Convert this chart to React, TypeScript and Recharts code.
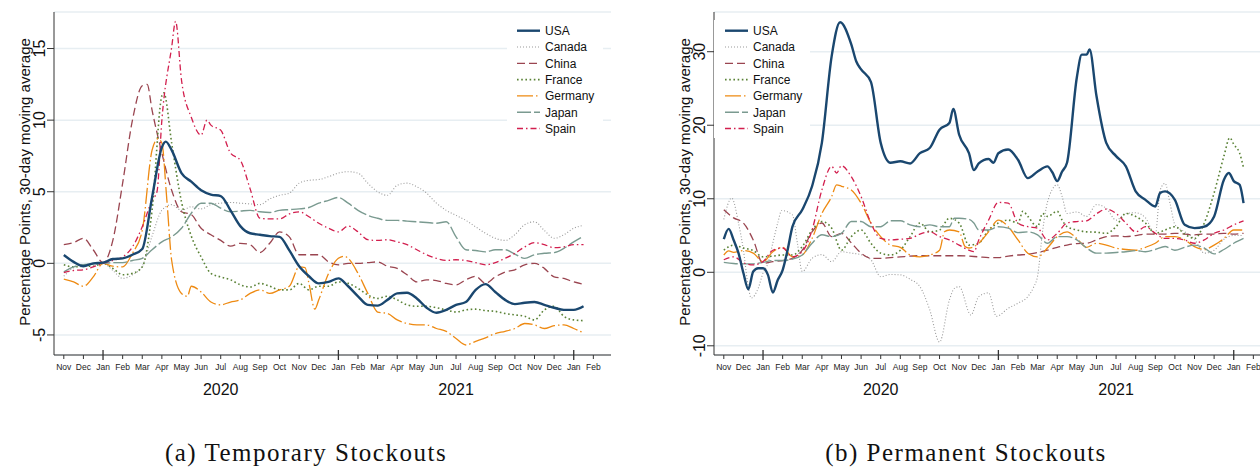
import { LineChart, Line, XAxis, YAxis, CartesianGrid, Legend } from "recharts";

type Pt = [number, number];

// x = months since Nov 2019
const monthTicks = [0, 1, 2, 3, 4, 5, 6, 7, 8, 9, 10, 11, 12, 13, 14, 15, 16, 17, 18, 19, 20, 21, 22, 23, 24, 25, 26, 27];
const monthLabels = [
  "Nov", "Dec", "Jan", "Feb", "Mar", "Apr", "May", "Jun", "Jul", "Aug", "Sep", "Oct", "Nov", "Dec",
  "Jan", "Feb", "Mar", "Apr", "May", "Jun", "Jul", "Aug", "Sep", "Oct", "Nov", "Dec", "Jan", "Feb",
];
const majorTicks = [2, 14, 26];
const yearTicks = [8, 20];
const years = ["2020", "2021"];

const countries = ["USA", "Canada", "China", "France", "Germany", "Japan", "Spain"];
const colors = ["#1a476f", "#9a9a9a", "#9a4550", "#5a8236", "#ee8a12", "#7a9a90", "#d21f4e"];
const dashes = ["", "1 2", "8 4", "1.6 2.6", "16 3 1.5 3", "14 3", "6 3 1.5 3"];
const widths = [2.4, 1.1, 1.3, 1.6, 1.3, 1.4, 1.3];

// (a) Temporary stockouts
const usaT: Pt[] = [[0,0.58],[0.5,0.1],[1,-0.2],[1.5,0],[2,0.05],[2.5,0.3],[3,0.35],[3.5,0.6],[4,1.0],[4.5,4.6],[5,8.1],[5.2,8.5],[5.5,7.9],[6,6.3],[6.5,5.7],[7,5.1],[7.5,4.8],[8,4.7],[8.5,3.7],[9,2.6],[9.5,2.1],[10,2.0],[10.5,1.9],[11,1.85],[11.5,0.9],[12,-0.2],[12.5,-0.9],[13,-1.4],[13.5,-1.3],[14,-1.05],[14.5,-1.6],[15,-2.3],[15.5,-2.9],[16,-2.95],[16.5,-2.55],[17,-2.1],[17.5,-2.05],[18,-2.45],[18.5,-3.1],[19,-3.45],[19.5,-3.25],[20,-2.9],[20.5,-2.7],[21,-1.85],[21.5,-1.45],[22,-2.0],[22.5,-2.55],[23,-2.85],[23.5,-2.75],[24,-2.7],[24.5,-2.9],[25,-3.1],[25.5,-3.25],[26,-3.25],[26.5,-3.0]];
const canT: Pt[] = [[0,-0.9],[0.5,-0.3],[1,-0.1],[1.5,-0.05],[2,0],[2.5,-0.5],[3,-1.05],[3.5,-0.8],[4,-0.2],[4.5,1.9],[5,3.7],[5.5,4.1],[6,3.7],[6.5,3.95],[7,3.8],[7.5,4.1],[8,4.2],[8.5,4.25],[9,4.2],[9.5,4.15],[10,4.1],[10.5,4.5],[11,4.75],[11.5,4.9],[12,5.6],[12.5,5.8],[13,5.85],[13.5,6.05],[14,6.3],[14.5,6.4],[15,6.3],[15.5,5.6],[16,5.0],[16.5,4.75],[17,5.45],[17.5,5.6],[18,5.35],[18.5,4.9],[19,4.2],[19.5,3.7],[20,3.35],[20.5,3.0],[21,2.55],[21.5,2.1],[22,1.75],[22.5,1.6],[23,2.0],[23.5,2.7],[24,2.9],[24.5,2.3],[25,1.75],[25.5,2.0],[26,2.45],[26.5,2.65]];
const chnT: Pt[] = [[0,1.3],[0.5,1.45],[1,1.75],[1.5,0.95],[2,0.05],[2.5,1.6],[3,5.6],[3.5,10.0],[4,12.4],[4.25,12.5],[4.5,10.7],[5,7.7],[5.5,5.1],[6,3.6],[6.5,3.4],[7,2.45],[7.5,2.0],[8,1.6],[8.5,1.2],[9,1.4],[9.5,1.3],[10,0.75],[10.5,1.4],[11,2.2],[11.5,1.85],[12,0.6],[12.5,0.6],[13,0.6],[13.5,0.1],[14,-0.1],[14.5,0],[15,0],[15.5,0.05],[16,0.1],[16.5,-0.2],[17,-0.35],[17.5,-0.8],[18,-1.3],[18.5,-1.15],[19,-1.2],[19.5,-1.4],[20,-1.5],[20.5,-1.15],[21,-0.9],[21.5,-1.4],[22,-0.95],[22.5,-0.6],[23,-0.45],[23.5,-0.1],[24,0],[24.5,-0.35],[25,-0.95],[25.5,-1.05],[26,-1.3],[26.5,-1.45]];
const fraT: Pt[] = [[0,-0.1],[0.5,-0.25],[1,-0.2],[1.5,-0.2],[2,0],[2.5,-0.35],[3,-0.8],[3.5,-0.7],[4,-0.25],[4.5,3.7],[5,11.7],[5.1,11.9],[5.5,8.4],[6,4.3],[6.5,1.9],[7,0.45],[7.5,-0.7],[8,-0.95],[8.5,-1.15],[9,-1.5],[9.5,-1.65],[10,-1.4],[10.5,-1.6],[11,-1.85],[11.5,-1.85],[12,-1.4],[12.5,-1.85],[13,-1.6],[13.5,-1.6],[14,-1.3],[14.5,-1.4],[15,-1.75],[15.5,-2.2],[16,-2.45],[16.5,-2.3],[17,-2.55],[17.5,-2.9],[18,-3.0],[18.5,-3.0],[19,-3.1],[19.5,-3.25],[20,-3.4],[20.5,-3.25],[21,-3.2],[21.5,-3.3],[22,-3.35],[22.5,-3.5],[23,-3.6],[23.5,-3.7],[24,-3.95],[24.5,-3.25],[25,-3.0],[25.5,-3.7],[26,-3.95],[26.5,-4.0]];
const gerT: Pt[] = [[0,-1.1],[0.5,-1.3],[1,-1.6],[1.5,-0.95],[2,0],[2.5,-0.2],[3,-0.25],[3.5,0.7],[4,2.3],[4.5,7.9],[4.8,8.7],[5,8.4],[5.25,4.5],[5.5,0.2],[6,-2.1],[6.3,-2.3],[6.5,-1.6],[7,-2.0],[7.5,-2.7],[8,-2.9],[8.5,-2.7],[9,-2.55],[9.5,-2.1],[10,-1.85],[10.5,-2.1],[11,-1.85],[11.5,-1.6],[12,-0.25],[12.3,-0.3],[12.5,-1.4],[12.8,-3.2],[13,-2.55],[13.5,-0.7],[14,0.35],[14.3,0.5],[14.5,0.35],[15,-0.7],[15.5,-2.1],[16,-3.4],[16.5,-3.5],[17,-3.95],[17.5,-4.2],[18,-4.3],[18.5,-4.3],[19,-4.55],[19.5,-4.75],[20,-5.25],[20.5,-5.7],[21,-5.45],[21.5,-5.2],[22,-4.9],[22.5,-4.75],[23,-4.55],[23.5,-4.2],[24,-4.3],[24.5,-4.55],[25,-4.35],[25.5,-4.3],[26,-4.55],[26.5,-4.85]];
const japT: Pt[] = [[0,-0.6],[0.5,-0.25],[1,-0.1],[1.5,-0.05],[2,0],[2.5,0.05],[3,0.05],[3.5,0.2],[4,0.35],[4.5,0.95],[5,1.5],[5.5,1.85],[6,2.45],[6.5,3.5],[7,4.2],[7.5,4.2],[8,3.85],[8.5,3.6],[9,3.65],[9.5,3.7],[10,3.6],[10.5,3.55],[11,3.7],[11.5,3.75],[12,3.8],[12.5,3.9],[13,4.2],[13.5,4.4],[14,4.6],[14.5,4.2],[15,3.7],[15.5,3.35],[16,3.15],[16.5,3.0],[17,3.0],[17.5,2.95],[18,2.9],[18.5,2.85],[19,2.8],[19.5,2.9],[20,1.85],[20.5,0.95],[21,0.9],[21.5,0.8],[22,0.95],[22.5,0.95],[23,0.65],[23.5,0.35],[24,0.6],[24.5,0.7],[25,0.75],[25.5,1.05],[26,1.5],[26.5,1.9]];
const spaT: Pt[] = [[0,-0.65],[0.5,-0.5],[1,-0.45],[1.5,-0.25],[2,0],[2.5,0.2],[3,0.45],[3.5,1.15],[4,2.55],[4.5,4.4],[4.75,5.0],[5,10],[5.5,15.1],[5.7,16.9],[6,12.8],[6.5,10.2],[7,8.95],[7.3,10],[7.5,9.65],[8,9.3],[8.5,7.7],[9,7.2],[9.5,5.2],[10,3.15],[10.5,3.1],[11,3.1],[11.5,3.45],[12,3.6],[12.5,3.25],[13,2.8],[13.5,2.45],[14,2.2],[14.5,2.6],[15,2.2],[15.5,1.65],[16,1.6],[16.5,1.65],[17,1.5],[17.5,1.3],[18,0.95],[18.5,0.6],[19,0.35],[19.5,0.2],[20,0.25],[20.5,0.2],[21,0.05],[21.5,-0.1],[22,0.05],[22.5,0.35],[23,0.7],[23.5,1.15],[24,1.45],[24.5,1.3],[25,1.1],[25.5,1.15],[26,1.3],[26.5,1.3]];

// (b) Permanent stockouts
const usaP: Pt[] = [[0,4.5],[0.25,5.9],[0.5,4.4],[0.75,2.6],[1,-0.1],[1.25,-2.3],[1.5,0.1],[1.75,0.55],[2,0.55],[2.25,-0.35],[2.5,-2.75],[2.75,-1.05],[3,0.3],[3.25,3.0],[3.5,6.2],[4,8.5],[4.5,11.7],[5,17.6],[5.5,29.4],[5.93,34.0],[6.5,31.0],[6.75,28.7],[7,27.6],[7.5,25.9],[8,17.6],[8.5,14.9],[9,15.1],[9.5,14.8],[10,16.2],[10.5,16.9],[11,19.4],[11.5,20.3],[11.7,22.2],[12,18.7],[12.5,16.2],[12.75,13.9],[13,14.8],[13.5,15.4],[13.75,14.9],[14,16.2],[14.5,16.7],[15,15.3],[15.5,12.8],[16,13.7],[16.5,14.4],[16.75,13.6],[17,12.4],[17.25,13.7],[17.5,14.9],[18,26.5],[18.25,29.6],[18.5,29.6],[18.65,30.3],[19,24],[19.5,17.6],[20,15.8],[20.5,14.4],[21,11],[21.5,9.85],[22,8.95],[22.25,10.8],[22.5,11.0],[23,9.85],[23.5,6.45],[24,6.0],[24.5,6.2],[25,7.6],[25.5,12.6],[25.75,13.5],[26,12.4],[26.3,11.9],[26.5,9.4]];
const canP: Pt[] = [[0,7.2],[0.4,10.1],[0.75,6.7],[1,3.0],[1.25,-2],[1.4,-3.5],[1.75,-2.2],[2,-0.1],[2.25,1.2],[2.5,4.0],[2.75,6.7],[2.95,8.4],[3.5,7.8],[3.75,4.0],[4,0.1],[4.5,1.9],[5,2.4],[5.5,1.45],[6,2.8],[6.5,2.6],[7,2.4],[7.5,1.7],[8,-0.6],[8.5,-0.3],[9,-0.35],[9.5,-0.95],[10,-1.95],[10.5,-5.1],[11,-9.5],[11.5,-3.8],[11.75,-2.2],[12,-1.95],[12.6,-5.8],[13,-3.3],[13.5,-2.8],[13.9,-6.0],[14.5,-4.9],[15,-4.2],[15.5,-3.3],[15.8,-2.0],[16,-0.5],[16.25,5.5],[16.5,9.5],[17,11.9],[17.25,10.3],[17.5,8.0],[18,8.2],[18.5,7.6],[19,9.2],[19.5,8.7],[20,7.1],[20.5,8.0],[21,8.1],[21.5,7.4],[22,5.1],[22.25,11.2],[22.5,12.1],[22.75,9.4],[23,6.5],[23.5,5.5],[24,4.5],[24.5,2.6],[25,3.0],[25.5,4.5],[26,5.0],[26.5,5.0]];
const chnP: Pt[] = [[0,8.5],[0.5,7.4],[1,6.7],[1.5,4.4],[2,1.2],[2.5,1.45],[3,1.6],[3.5,1.9],[4,3.0],[4.5,5.5],[5,6.7],[5.5,4.85],[6,5.3],[6.5,4.0],[7,2.6],[7.5,1.9],[8,1.9],[8.5,2.0],[9,2.1],[10,2.25],[11,2.25],[12,2.25],[13,2.1],[13.5,2.0],[14,2.0],[14.5,2.2],[15,2.35],[15.5,2.45],[16,2.7],[16.5,3.0],[17,3.4],[17.5,3.7],[18,3.9],[18.5,3.95],[19,4.4],[19.5,4.85],[20,4.95],[20.5,4.85],[21,5.0],[21.5,5.2],[22,5.2],[22.5,5.2],[23,5.3],[23.5,5.2],[24,5.1],[24.5,5.2],[25,5.2],[25.5,5.3],[26,5.2],[26.5,5.3]];
const fraP: Pt[] = [[0,3.0],[0.5,3.7],[1,3.3],[1.5,2.95],[2,2.1],[2.5,2.2],[3,2.35],[3.5,2.35],[4,3.5],[4.5,5.75],[5,6.9],[5.5,6.0],[6,3.0],[6.5,4.85],[7,5.75],[7.5,3.95],[8,2.6],[8.5,2.35],[9,3.0],[9.5,4.85],[10,6.7],[10.5,5.5],[11,5.75],[11.5,7.35],[12,6.7],[12.5,3.7],[13,3.95],[13.5,5.75],[14,6.7],[14.5,7.1],[15,6.7],[15.25,8.3],[15.5,7.6],[16,6.2],[16.25,8.0],[16.5,7.6],[17,8.3],[17.25,7.1],[17.5,6.2],[18,5.75],[18.5,5.5],[19,5.45],[19.5,5.3],[20,6.2],[20.5,8.0],[21,7.6],[21.5,6.7],[22,5.3],[22.5,5.75],[23,6.2],[23.5,5.2],[24,4.6],[24.5,6.7],[25,10.8],[25.5,15.8],[25.8,18.3],[26,17.4],[26.3,16.2],[26.5,14.2]];
const gerP: Pt[] = [[0,2.35],[0.25,2.9],[0.5,2.7],[1,2.95],[1.5,2.6],[2,1.45],[2.5,2.8],[3,3.4],[3.5,2.1],[4,2.35],[4.5,4.6],[5,8.0],[5.5,10.3],[5.75,11.9],[6,11.7],[6.5,11.2],[7,9.4],[7.5,6.7],[8,4.85],[8.5,3.7],[9,3.4],[9.5,2.35],[10,2.1],[10.5,2.35],[11,3.0],[11.25,5.5],[11.5,5.75],[12,5.5],[12.3,3.5],[12.5,3.3],[13,3.95],[13.5,5.5],[14,7.1],[14.5,6.2],[15,4.4],[15.5,2.6],[16,2.1],[16.5,3.3],[17,4.85],[17.5,5.5],[18,4.6],[18.5,3.4],[19,3.95],[19.5,3.7],[20,3.3],[20.5,3.1],[21,3.0],[21.5,3.4],[22,3.95],[22.5,4.85],[23,4.85],[23.5,4.4],[24,3.5],[24.5,3.1],[25,3.7],[25.5,4.6],[26,5.75],[26.5,5.75]];
const japP: Pt[] = [[0,1.35],[0.5,1.2],[1,1.15],[1.5,1.15],[2,1.35],[2.5,1.6],[3,1.6],[3.5,1.8],[4,2.35],[4.5,3.95],[5,5.1],[5.5,4.85],[6,5.3],[6.5,6.9],[7,6.9],[7.5,6.2],[8,6.2],[8.5,7.0],[9,7.0],[9.5,6.45],[10,6.2],[10.5,6.45],[11,6.2],[11.5,6.2],[11.75,7.35],[12,7.35],[12.5,7.2],[12.75,6.7],[13,5.75],[13.5,5.75],[14,6.2],[14.5,6.0],[15,5.4],[15.5,5.5],[16,5.1],[16.5,3.95],[17,4.85],[17.5,4.85],[18,4.4],[18.5,3.3],[19,2.6],[19.5,2.6],[20,2.7],[20.5,2.8],[21,2.95],[21.5,2.8],[22,3.1],[22.5,3.5],[23,3.0],[23.5,3.4],[24,3.7],[24.5,3.3],[25,2.5],[25.5,3.1],[26,3.95],[26.5,4.6]];
const spaP: Pt[] = [[0,1.7],[0.5,2.1],[1,1.3],[1.5,1.0],[2,1.45],[2.5,3.0],[3,3.3],[3.5,2.1],[4,2.8],[4.5,5.75],[5,11.2],[5.5,14.4],[5.75,13.5],[6,14.5],[6.5,13.0],[7,10.3],[7.5,6.7],[8,4.6],[8.5,4.4],[9,4.5],[9.5,4.6],[10,5.2],[10.5,5.5],[11,4.85],[11.5,4.4],[12,3.7],[12.5,3.0],[12.75,2.8],[13,4.4],[13.5,7.1],[14,9.5],[14.5,9.4],[15,6.7],[15.5,6.2],[16,6.0],[16.5,4.4],[17,5.3],[17.5,6.7],[18,6.9],[18.5,7.0],[19,7.95],[19.5,8.6],[20,8.0],[20.5,6.7],[21,5.5],[21.5,6.2],[22,5.3],[22.5,4.6],[23,4.6],[23.5,4.4],[24,3.95],[24.5,4.4],[25,5.3],[25.5,5.75],[26,6.45],[26.5,7.0]];

const tempSeries = [usaT, canT, chnT, fraT, gerT, japT, spaT];
const permSeries = [usaP, canP, chnP, fraP, gerP, japP, spaP];

const AXIS = "#333";

function MonthTick(props: any) {
  const { x, y, payload } = props;
  const m = payload.value;
  const major = majorTicks.includes(m);
  const yi = yearTicks.indexOf(m);
  return (
    <g>
      <line x1={x} x2={x} y1={major ? y - 5 : y} y2={y + (major ? 5 : 4)} stroke={AXIS} strokeWidth={major ? 1.3 : 1} />
      <text x={x} y={y + 15} textAnchor="middle" fontSize={8.5} fill="#222">{monthLabels[m]}</text>
      {yi >= 0 && (
        <text x={x} y={y + 40} textAnchor="middle" fontSize={16} fill="#111">{years[yi]}</text>
      )}
    </g>
  );
}

function ValueTick(props: any) {
  const { x, y, payload } = props;
  return (
    <g>
      <line x1={x - 7} x2={x} y1={y} y2={y} stroke={AXIS} />
      <text transform={`translate(${x - 9},${y}) rotate(-90)`} textAnchor="middle" fontSize={16} fill="#111">
        {payload.value}
      </text>
    </g>
  );
}

function LegendBox({ sampleX, textX }: { sampleX: number; textX: number }) {
  return (
    <svg width={96} height={118}>
      <rect width={96} height={118} fill="#fff" />
      {countries.map((c, i) => {
        const cy = 10.7 + i * 16.3;
        return (
          <g key={c}>
            <line x1={sampleX} x2={sampleX + 23} y1={cy} y2={cy} stroke={colors[i]} strokeWidth={widths[i]}
              strokeDasharray={dashes[i] || undefined} />
            <text x={textX} y={cy + 4.3} fontSize={12} fill="#111">{c}</text>
          </g>
        );
      })}
    </svg>
  );
}

function Panel({ series, domain, yTicks, legendLeft, sampleX, textX }: {
  series: Pt[][]; domain: [number, number]; yTicks: number[]; legendLeft: number; sampleX: number; textX: number;
}) {
  const order = [1, 2, 3, 4, 5, 6, 0];
  return (
    <LineChart width={630} height={420} margin={{ top: 12, right: 19, bottom: 15, left: 10 }}>
      <CartesianGrid vertical={false} stroke="#e7eef2" strokeWidth={1.5} />
      <XAxis dataKey="m" type="number" domain={[-0.5, 27.9]} ticks={monthTicks} interval={0}
        allowDataOverflow tickLine={false} tickSize={0} tickMargin={0} height={50}
        axisLine={{ stroke: AXIS }} tick={<MonthTick />} />
      <YAxis type="number" domain={domain} ticks={yTicks} interval={0} allowDataOverflow width={44}
        tickLine={false} tickSize={0} tickMargin={0} axisLine={{ stroke: AXIS }} tick={<ValueTick />} />
      <Legend layout="vertical" align="center" verticalAlign="middle"
        wrapperStyle={{ left: legendLeft, top: 20, width: 96, height: 118 }}
        content={() => <LegendBox sampleX={sampleX} textX={textX} />} />
      {order.map((i) => (
        <Line key={countries[i]} name={countries[i]} data={series[i].map(([m, v]) => ({ m, v }))}
          dataKey="v" type="monotone" stroke={colors[i]} strokeWidth={widths[i]}
          strokeDasharray={dashes[i] || undefined} dot={false} activeDot={false} isAnimationActive={false} />
      ))}
    </LineChart>
  );
}

const yTitle = "Percentage Points, 30-day moving average";

export default function App() {
  return (
    <div style={{ position: "absolute", left: 0, top: 0, width: 1260, height: 468, overflow: "hidden",
      background: "#fff", fontFamily: "'Liberation Sans', Arial, sans-serif" }}>
      <div style={{ position: "absolute", left: 0, top: 0 }}>
        <Panel series={tempSeries} domain={[-6.4, 17.55]} yTicks={[-5, 0, 5, 10, 15]}
          legendLeft={507} sampleX={10} textX={38} />
      </div>
      <div style={{ position: "absolute", left: 660, top: 0 }}>
        <Panel series={permSeries} domain={[-11.25, 35.4]} yTicks={[-10, 0, 10, 20, 30]}
          legendLeft={54} sampleX={11} textX={39} />
      </div>
      <svg width={1260} height={468} style={{ position: "absolute", left: 0, top: 0, pointerEvents: "none" }}>
        <text transform="translate(30,182) rotate(-90)" textAnchor="middle" fontSize={15} fill="#111">{yTitle}</text>
        <text transform="translate(690,182) rotate(-90)" textAnchor="middle" fontSize={15} fill="#111">{yTitle}</text>
        <text x={306} y={461} textAnchor="middle" fontSize={25} letterSpacing={1.5}
          fontFamily="'Liberation Serif', 'Times New Roman', serif" fill="#111">(a) Temporary Stockouts</text>
        <text x={966} y={461} textAnchor="middle" fontSize={25} letterSpacing={1.5}
          fontFamily="'Liberation Serif', 'Times New Roman', serif" fill="#111">(b) Permanent Stockouts</text>
      </svg>
    </div>
  );
}
